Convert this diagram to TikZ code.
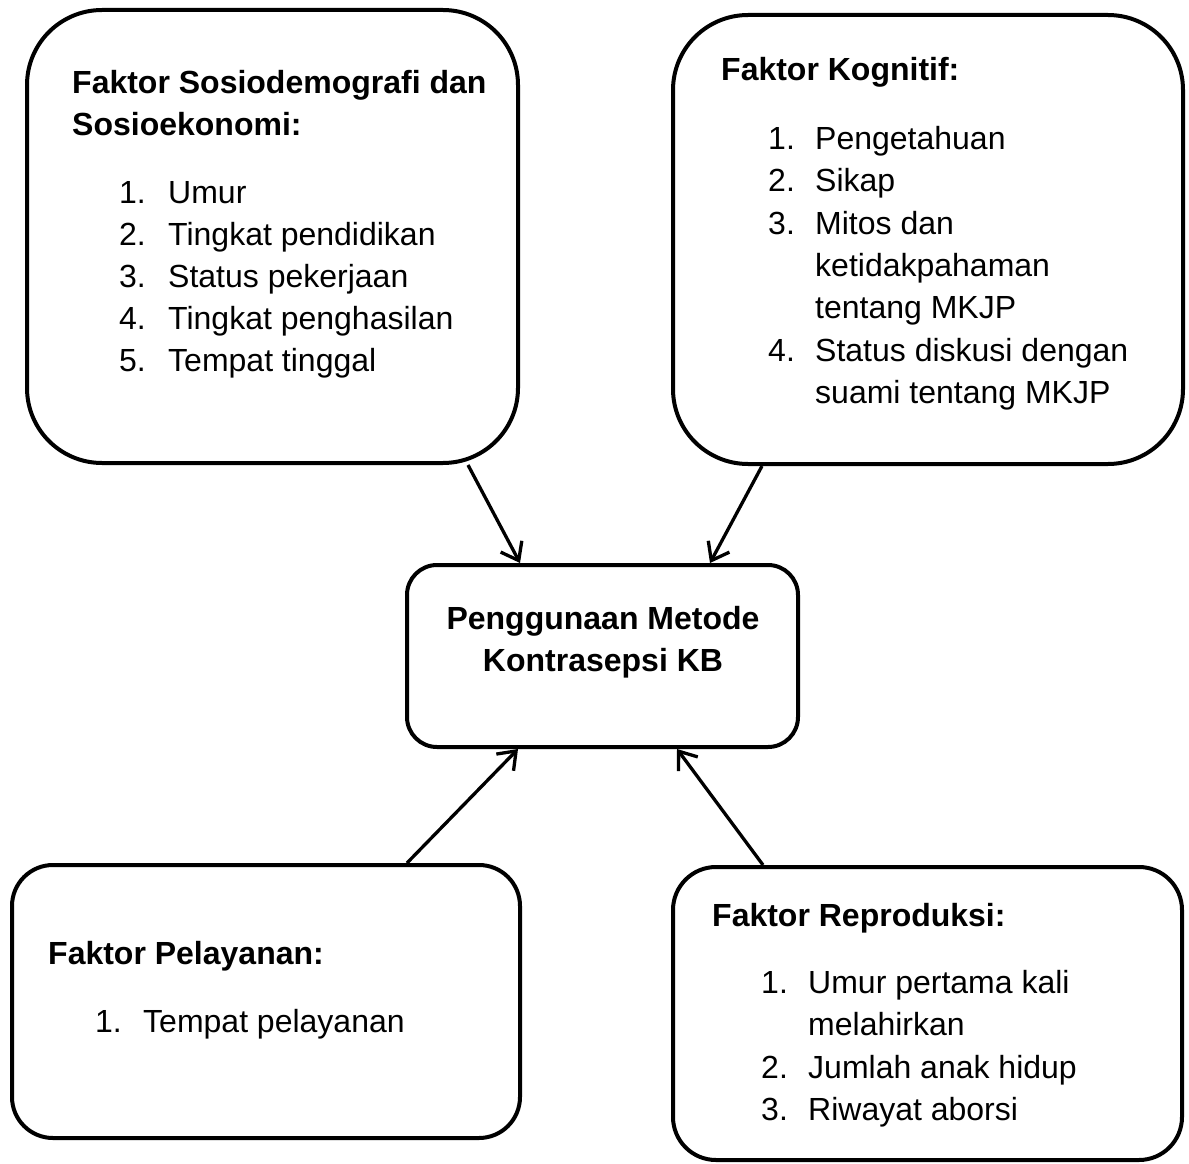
\documentclass[tikz,border=0pt]{standalone}
\usepackage{fontspec}
\setmainfont{Liberation Sans}
\usetikzlibrary{arrows.meta}
\begin{document}
\begin{tikzpicture}[x=1pt,y=-1pt,
  box/.style={draw=black, line width=4pt, rectangle, inner sep=0pt},
  txt/.style={anchor=base west, inner sep=0pt, font=\fontsize{32}{42}\selectfont},
  head/.style={anchor=base west, inner sep=0pt, font=\fontsize{32}{42}\selectfont\bfseries},
  ctr/.style={anchor=base, inner sep=0pt, font=\fontsize{32}{42}\selectfont\bfseries},
  arr/.style={line width=3.3pt, -{Straight Barb[length=16pt,width=24pt,line width=3.3pt]}}]
\useasboundingbox (0,0) rectangle (1189,1164);
% boxes
\node[box, rounded corners=75pt, minimum width=491pt, minimum height=453pt] (b1) at (272.5,236.5) {};
\node[box, rounded corners=75pt, minimum width=510pt, minimum height=449pt] (b2) at (928,239.5) {};
\node[box, rounded corners=30pt, minimum width=391pt, minimum height=182pt] (c) at (602.5,656) {};
\node[box, rounded corners=41pt, minimum width=508pt, minimum height=273pt] (b3) at (266,1001.5) {};
\node[box, rounded corners=43pt, minimum width=509pt, minimum height=293pt] (b4) at (927.5,1013.5) {};
% box 1 text
\node[head] (h1a) at (72,93) {Faktor Sosiodemografi dan};
\node[head] (h1b) at (72,135) {Sosioekonomi:};
\node[txt] (n11) at (119,203) {1.}; \node[txt] (t11) at (168,203) {Umur};
\node[txt] (n12) at (119,245) {2.}; \node[txt] (t12) at (168,245) {Tingkat pendidikan};
\node[txt] (n13) at (119,287) {3.}; \node[txt] (t13) at (168,287) {Status pekerjaan};
\node[txt] (n14) at (119,329) {4.}; \node[txt] (t14) at (168,329) {Tingkat penghasilan};
\node[txt] (n15) at (119,371) {5.}; \node[txt] (t15) at (168,371) {Tempat tinggal};
% box 2 text
\node[head] (h2) at (721,81) {Faktor Kognitif:};
\node[txt] (n21) at (768,149.5) {1.}; \node[txt] (t21) at (815,149.5) {Pengetahuan};
\node[txt] (n22) at (768,191.8) {2.}; \node[txt] (t22) at (815,191.8) {Sikap};
\node[txt] (n23) at (768,234.1) {3.}; \node[txt] (t23a) at (815,234.1) {Mitos dan};
\node[txt] (t23b) at (815,276.4) {ketidakpahaman};
\node[txt] (t23c) at (815,318.7) {tentang MKJP};
\node[txt] (n24) at (768,361) {4.}; \node[txt] (t24a) at (815,361) {Status diskusi dengan};
\node[txt] (t24b) at (815,403.3) {suami tentang MKJP};
% centre text
\node[ctr] (c1) at (603,629) {Penggunaan Metode};
\node[ctr] (c2) at (603,671) {Kontrasepsi KB};
% box 3 text
\node[head] (h3) at (48,964) {Faktor Pelayanan:};
\node[txt] (n31) at (95,1032) {1.}; \node[txt] (t31) at (143,1032) {Tempat pelayanan};
% box 4 text
\node[head] (h4) at (712,926) {Faktor Reproduksi:};
\node[txt] (n41) at (761,993) {1.}; \node[txt] (t41a) at (808,993) {Umur pertama kali};
\node[txt] (t41b) at (808,1035.5) {melahirkan};
\node[txt] (n42) at (761,1078) {2.}; \node[txt] (t42) at (808,1078) {Jumlah anak hidup};
\node[txt] (n43) at (761,1120) {3.}; \node[txt] (t43) at (808,1120) {Riwayat aborsi};
% arrows
\draw[arr] ([xshift=195.5pt]b1.south) -- ([xshift=-82.5pt]c.north);
\draw[arr] ([xshift=-166pt]b2.south) -- ([xshift=107.5pt]c.north);
\draw[arr] ([xshift=141pt]b3.north) -- ([xshift=-84.5pt]c.south);
\draw[arr] ([xshift=-164.5pt]b4.north) -- ([xshift=74.5pt]c.south);
\end{tikzpicture}
\end{document}
